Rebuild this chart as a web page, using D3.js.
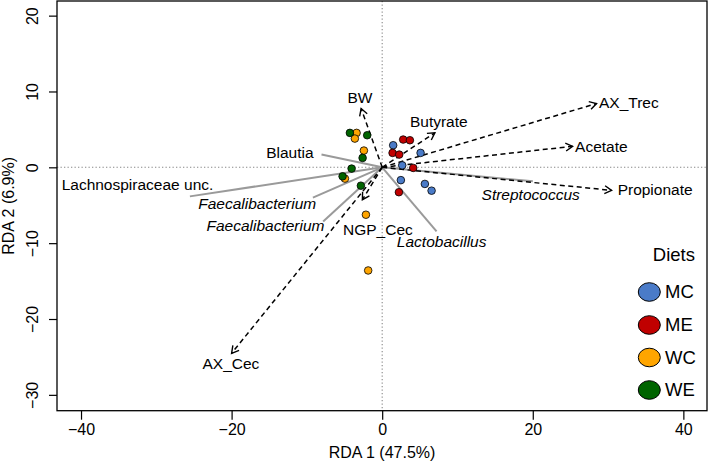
<!DOCTYPE html>
<html>
<head>
<meta charset="utf-8">
<script src="https://cdn.jsdelivr.net/npm/d3@7"></script>
<style>
  body { margin: 0; background: #fff; }
  svg { display: block; font-family: "Liberation Sans", Arial, Helvetica, sans-serif; }
</style>
</head>
<body>
<svg id="chart" width="709" height="465"></svg>
<script>
// ---- Data ----
const diets = ["MC", "ME", "WC", "WE"];
const dietColors = ["#4a7bc8", "#c00000", "#ffa500", "#006400"];

// site scores (RDA1, RDA2) per diet
const sitesMC = [[1.46, 2.91], [5.10, 1.90], [2.66, 0.26], [2.48, -1.69], [5.67, -2.19], [6.56, -3.08]];
const sitesME = [[2.79, 3.66], [3.68, 3.57], [1.38, 1.90], [2.26, 1.68], [4.12, -0.08], [2.22, -3.28]];
const sitesWC = [[-3.40, 4.54], [-3.63, 3.79], [-2.43, 2.21], [-4.95, -1.49], [-2.16, -6.25], [-1.86, -13.6]];
const sitesWE = [[-4.29, 4.54], [-1.99, 4.23], [-2.60, 1.24], [-4.06, -0.17], [-5.26, -1.19], [-2.83, -2.42]];

// environmental vectors (dashed arrows)
const envNames = ["BW", "Butyrate", "AX_Trec", "Acetate", "Propionate", "NGP_Cec", "AX_Cec"];
const envX = [-2.80, 7.00, 28.47, 25.29, 30.47, -2.63, -20.0];
const envY = [7.75, 4.54, 8.41, 2.77, -3.04, -4.27, -24.52];
const envLabelX = [-2.96, 7.52, 32.76, 29.11, 36.25, -0.57, -20.09];
const envLabelY = [9.21, 6.08, 8.51, 2.77, -2.95, -8.23, -25.93];

// species vectors (solid grey lines)
const sppNames = ["Blautia", "Lachnospiraceae unc.", "Faecalibacterium", "Faecalibacterium", "Streptococcus", "Lactobacillus"];
const sppItalic = [false, false, true, true, true, true];
const sppX = [-8.06, -25.54, -9.20, -7.84, 20.01, 7.22];
const sppY = [1.68, -3.83, -4.00, -7.13, -1.85, -8.45];
const sppLabelX = [-12.26, -32.5, -16.6, -15.5, 19.72, 7.90];
const sppLabelY = [1.98, -2.29, -4.80, -7.70, -3.61, -9.82];

const xTicks = [-40, -20, 0, 20, 40];
const yTicks = [-30, -20, -10, 0, 10, 20];
const xTitle = "RDA 1 (47.5%)";
const yTitle = "RDA 2 (6.9%)";
const legendTitle = "Diets";

// ---- Layout ----
const svg = d3.select("#chart");
const L = 57, R = 707, T = 1, B = 410.7;
const x = d3.scaleLinear().domain([-43.19, 43.14]).range([L, R]);
const y = d3.scaleLinear().domain([-32.09, 21.93]).range([B, T]);
const fs = 15.5;

// dotted reference lines
svg.append("line").attr("x1", L).attr("x2", R).attr("y1", y(0)).attr("y2", y(0))
  .attr("stroke", "#888").attr("stroke-width", 1.1).attr("stroke-dasharray", "1.3,2.2");
svg.append("line").attr("x1", x(0)).attr("x2", x(0)).attr("y1", T).attr("y2", B)
  .attr("stroke", "#888").attr("stroke-width", 1.1).attr("stroke-dasharray", "1.3,2.2");

// species lines
sppNames.forEach((n, i) => {
  svg.append("line").attr("x1", x(0)).attr("y1", y(0)).attr("x2", x(sppX[i])).attr("y2", y(sppY[i]))
    .attr("stroke", "#9a9a9a").attr("stroke-width", 2);
});

// env arrows
const headLen = 8, headAng = Math.PI / 6;
envNames.forEach((n, i) => {
  const x0 = x(0), y0 = y(0), x1 = x(envX[i]), y1 = y(envY[i]);
  svg.append("line").attr("x1", x0).attr("y1", y0).attr("x2", x1).attr("y2", y1)
    .attr("stroke", "#000").attr("stroke-width", 1.5).attr("stroke-dasharray", "5,3.5");
  const a = Math.atan2(y1 - y0, x1 - x0);
  const p = d3.path();
  p.moveTo(x1 - headLen * Math.cos(a - headAng), y1 - headLen * Math.sin(a - headAng));
  p.lineTo(x1, y1);
  p.lineTo(x1 - headLen * Math.cos(a + headAng), y1 - headLen * Math.sin(a + headAng));
  svg.append("path").attr("d", p.toString()).attr("fill", "none")
    .attr("stroke", "#000").attr("stroke-width", 1.4);
});

// points
const allSites = [sitesMC, sitesME, sitesWC, sitesWE];
allSites.forEach((pts, gi) => {
  svg.append("g").selectAll("circle").data(pts).join("circle")
    .attr("cx", d => x(d[0])).attr("cy", d => y(d[1])).attr("r", 3.8)
    .attr("fill", dietColors[gi]).attr("stroke", "#000").attr("stroke-width", 0.8);
});

// labels
envNames.forEach((n, i) => {
  svg.append("text").attr("x", x(envLabelX[i])).attr("y", y(envLabelY[i])).attr("dy", "0.35em")
    .attr("text-anchor", "middle").attr("font-size", fs).attr("fill", "#000").text(n);
});
sppNames.forEach((n, i) => {
  svg.append("text").attr("x", x(sppLabelX[i])).attr("y", y(sppLabelY[i])).attr("dy", "0.35em")
    .attr("text-anchor", "middle").attr("font-size", fs).attr("fill", "#000")
    .attr("font-style", sppItalic[i] ? "italic" : "normal").text(n);
});

// box
svg.append("rect").attr("x", L).attr("y", T).attr("width", R - L).attr("height", B - T)
  .attr("fill", "none").attr("stroke", "#000").attr("stroke-width", 1.3);

// axes
const xAxis = svg.append("g").attr("transform", `translate(0,${B})`)
  .call(d3.axisBottom(x).tickValues(xTicks).tickSize(9).tickPadding(4).tickFormat(d3.format("d")));
xAxis.select(".domain").remove();
xAxis.selectAll("text").attr("font-size", 16).attr("font-family", "Liberation Sans, Arial, sans-serif").attr("fill", "#000");
xAxis.selectAll("line").attr("stroke-width", 1.2);

const yAxis = svg.append("g").attr("transform", `translate(${L},0)`)
  .call(d3.axisLeft(y).tickValues(yTicks).tickSize(8).tickFormat(d3.format("d")));
yAxis.select(".domain").remove();
yAxis.selectAll("line").attr("stroke-width", 1.2);
yAxis.selectAll("text").attr("font-size", 16).attr("font-family", "Liberation Sans, Arial, sans-serif").attr("fill", "#000")
  .attr("text-anchor", "middle").attr("dy", null).attr("x", null)
  .attr("transform", d => `translate(-24.5,0) rotate(-90)`).attr("y", 0).attr("dominant-baseline", "central");

svg.append("text").attr("x", (L + R) / 2).attr("y", 458).attr("text-anchor", "middle")
  .attr("font-size", 16).text(xTitle);
svg.append("text").attr("transform", `translate(14,${(T + B) / 2}) rotate(-90)`).attr("text-anchor", "middle")
  .attr("font-size", 16).text(yTitle);

// legend
svg.append("text").attr("x", 695).attr("y", 255).attr("dy", "0.35em").attr("text-anchor", "end")
  .attr("font-size", 18.5).text(legendTitle);
const legY = [292, 325, 357.5, 390];
diets.forEach((d, i) => {
  svg.append("ellipse").attr("cx", 649.3).attr("cy", legY[i]).attr("rx", 11).attr("ry", 9.3)
    .attr("fill", dietColors[i]).attr("stroke", "#000").attr("stroke-width", 1);
  svg.append("text").attr("x", 665).attr("y", legY[i]).attr("dy", "0.35em")
    .attr("font-size", 18.5).text(d);
});
</script>
</body>
</html>
